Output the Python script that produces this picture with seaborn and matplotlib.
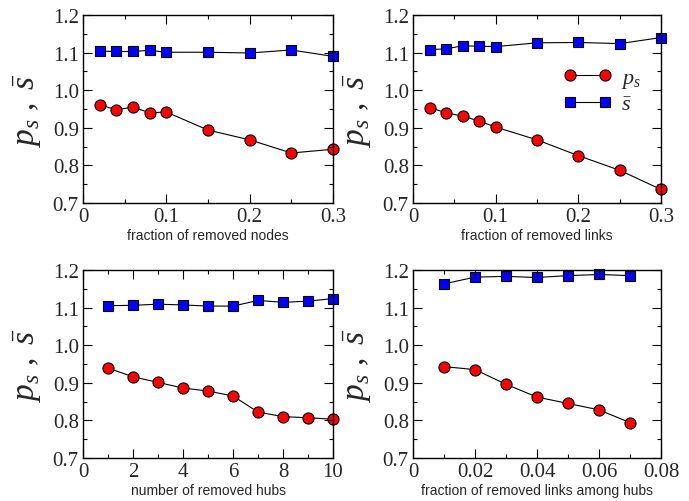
import numpy as np
import pandas as pd
import matplotlib
matplotlib.use("Agg")
import matplotlib.pyplot as plt
import seaborn as sns
from matplotlib.ticker import MultipleLocator
from matplotlib.lines import Line2D

sns.set_theme(style="white")
plt.rcParams['font.family'] = ['Liberation Serif', 'DejaVu Serif']
plt.rcParams['mathtext.fontset'] = 'custom'
plt.rcParams['mathtext.rm'] = 'Liberation Serif'
plt.rcParams['mathtext.it'] = 'Liberation Serif:italic'

# Panel (a): removed nodes
x_nodes = [0.02, 0.04, 0.06, 0.08, 0.10, 0.15, 0.20, 0.25, 0.30]
ps_nodes = [0.961, 0.948, 0.955, 0.940, 0.942, 0.894, 0.868, 0.833, 0.843]
s_nodes = [1.104, 1.103, 1.103, 1.106, 1.101, 1.101, 1.099, 1.107, 1.090]

# Panel (b): removed links
x_links = [0.02, 0.04, 0.06, 0.08, 0.10, 0.15, 0.20, 0.25, 0.30]
ps_links = [0.954, 0.940, 0.931, 0.918, 0.902, 0.868, 0.826, 0.787, 0.736]
s_links = [1.108, 1.110, 1.118, 1.117, 1.116, 1.126, 1.127, 1.124, 1.140]

# Panel (c): removed hubs
x_hubs = [1, 2, 3, 4, 5, 6, 7, 8, 9, 10]
ps_hubs = [0.939, 0.916, 0.901, 0.886, 0.878, 0.865, 0.822, 0.810, 0.807, 0.803]
s_hubs = [1.105, 1.106, 1.109, 1.107, 1.104, 1.104, 1.119, 1.114, 1.117, 1.124]

# Panel (d): removed links among hubs
x_hl = [0.01, 0.02, 0.03, 0.04, 0.05, 0.06, 0.07]
ps_hl = [0.943, 0.935, 0.896, 0.862, 0.845, 0.828, 0.794]
s_hl = [1.163, 1.181, 1.183, 1.180, 1.185, 1.188, 1.185]

xlabels = ["fraction of removed nodes", "fraction of removed links",
           "number of removed hubs", "fraction of removed links among hubs"]
xlims = [(0, 0.3), (0, 0.3), (0, 10), (0, 0.08)]
xmajor = [0.1, 0.1, 2, 0.02]
xminor = [0.05, 0.05, 1, 0.01]

panels = [(x_nodes, ps_nodes, s_nodes), (x_links, ps_links, s_links),
          (x_hubs, ps_hubs, s_hubs), (x_hl, ps_hl, s_hl)]

fig = plt.figure(figsize=(6.89, 5.02), dpi=100)
positions = [[0.1205, 0.5936, 0.3628, 0.3745], [0.5994, 0.5936, 0.36, 0.3745],
             [0.1205, 0.0857, 0.3628, 0.3745], [0.5994, 0.0857, 0.36, 0.3745]]

for i, (pos, (xs, ps, ss)) in enumerate(zip(positions, panels)):
    ax = fig.add_axes(pos)
    df = pd.DataFrame({"x": xs, "ps": ps, "s": ss})
    sns.lineplot(data=df, x="x", y="ps", ax=ax, color="black", lw=0.8,
                 marker="o", markersize=8, markerfacecolor="#ff0000",
                 markeredgecolor="black", markeredgewidth=0.8, clip_on=False)
    sns.lineplot(data=df, x="x", y="s", ax=ax, color="black", lw=0.8,
                 marker="s", markersize=7.5, markerfacecolor="#0000ff",
                 markeredgecolor="black", markeredgewidth=0.8, clip_on=False)
    ax.set_axisbelow(False)
    ax.set_xlim(*xlims[i])
    ax.set_ylim(0.7, 1.2)
    ax.xaxis.set_major_locator(MultipleLocator(xmajor[i]))
    ax.xaxis.set_minor_locator(MultipleLocator(xminor[i]))
    ax.yaxis.set_major_locator(MultipleLocator(0.1))
    ax.yaxis.set_minor_locator(MultipleLocator(0.05))
    ax.xaxis.set_major_formatter(matplotlib.ticker.FuncFormatter(lambda v, p: f"{v:g}"))
    ax.yaxis.set_major_formatter(matplotlib.ticker.FormatStrFormatter("%.1f"))
    ax.tick_params(which="both", direction="in", top=True, right=True,
                   bottom=True, left=True, color="black")
    ax.tick_params(which="major", length=6.5, width=0.8, labelsize=15, pad=3)
    ax.tick_params(which="minor", length=3.2, width=0.8)
    for sp in ax.spines.values():
        sp.set_color("black")
        sp.set_linewidth(1.0)
    ax.set_xlabel(xlabels[i], family=["Liberation Sans", "DejaVu Sans"],
                  fontsize=10, labelpad=1)
    ax.set_ylabel(r"$p_s\ ,\ \bar{s}$", fontsize=24, labelpad=6)
    if i == 1:
        h1 = Line2D([], [], color="black", lw=0.8, marker="o", markersize=8,
                    markerfacecolor="#ff0000", markeredgecolor="black", markeredgewidth=0.8)
        h2 = Line2D([], [], color="black", lw=0.8, marker="s", markersize=7.5,
                    markerfacecolor="#0000ff", markeredgecolor="black", markeredgewidth=0.8)
        ax.legend([h1, h2], [r"$p_s$", r"$\bar{s}$"], loc="upper left",
                  bbox_to_anchor=(0.57, 0.77), frameon=False, numpoints=2,
                  handlelength=2.2, handletextpad=0.4, fontsize=16,
                  labelspacing=0.2, borderaxespad=0)

fig.savefig("out.png", dpi=100)
